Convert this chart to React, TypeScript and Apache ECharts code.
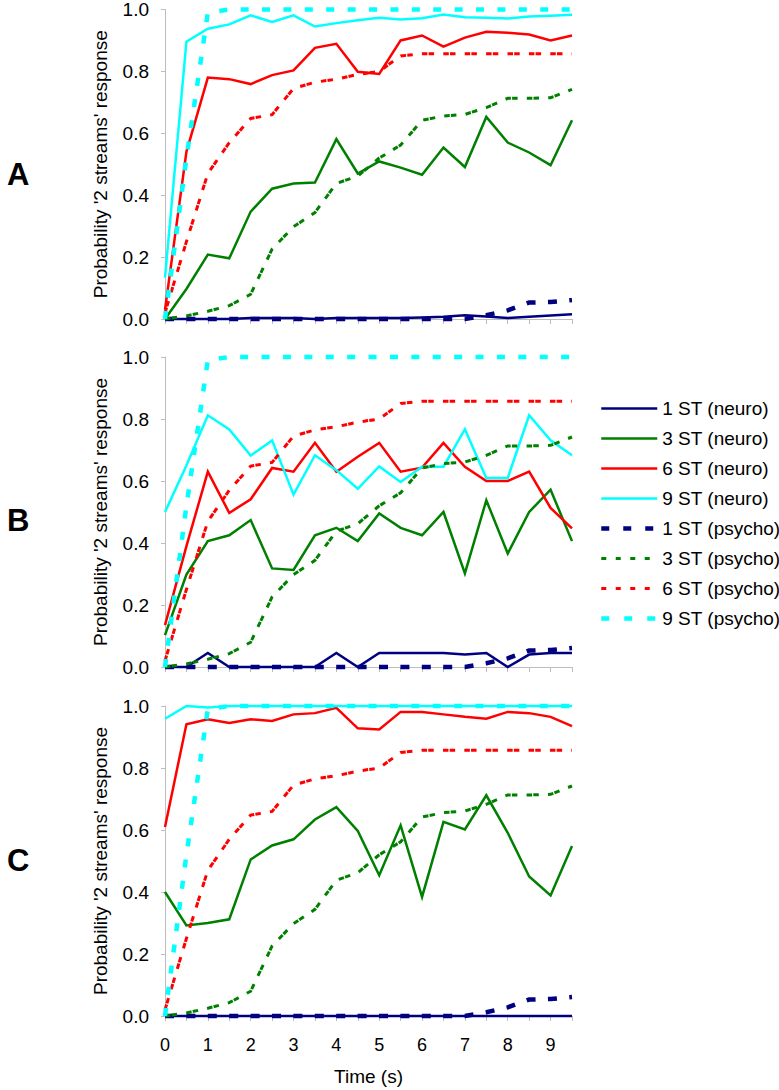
import React, { useEffect, useRef } from "react";
import * as echarts from "echarts";

const times = [0, 0.5, 1, 1.5, 2, 2.5, 3, 3.5, 4, 4.5, 5, 5.5, 6, 6.5, 7, 7.5, 8, 8.5, 9, 9.5];
const yTicks = [0, 0.2, 0.4, 0.6, 0.8, 1.0];
const seriesNames = [
  "1 ST (neuro)", "3 ST (neuro)", "6 ST (neuro)", "9 ST (neuro)",
  "1 ST (psycho)", "3 ST (psycho)", "6 ST (psycho)", "9 ST (psycho)",
];
const panelLabels = ["A", "B", "C"];

// psychophysical data (same in all panels)
const psycho1 = [0, 0, 0, 0, 0, 0, 0, 0, 0, 0, 0, 0, 0, 0, 0, 0.012, 0.028, 0.053, 0.055, 0.061];
const psycho3 = [0, 0.01, 0.025, 0.043, 0.08, 0.226, 0.298, 0.344, 0.438, 0.462, 0.52, 0.562, 0.642, 0.656, 0.661, 0.683, 0.713, 0.713, 0.715, 0.742];
const psycho6 = [0.02, 0.25, 0.47, 0.57, 0.648, 0.66, 0.745, 0.765, 0.775, 0.79, 0.8, 0.85, 0.857, 0.857, 0.857, 0.857, 0.857, 0.857, 0.857, 0.857];
const psycho9 = [0, 0.52, 0.99, 1, 1, 1, 1, 1, 1, 1, 1, 1, 1, 1, 1, 1, 1, 1, 1, 1];

// panel A neuro
const a1 = [0, 0, 0, 0, 0.003, 0.003, 0.003, 0, 0.003, 0.003, 0.003, 0.003, 0.005, 0.007, 0.012, 0.008, 0.003, 0.007, 0.011, 0.015];
const a3 = [0, 0.097, 0.208, 0.196, 0.347, 0.421, 0.438, 0.441, 0.581, 0.47, 0.509, 0.489, 0.466, 0.554, 0.491, 0.653, 0.57, 0.538, 0.497, 0.642];
const a6 = [0.03, 0.54, 0.78, 0.775, 0.759, 0.788, 0.803, 0.876, 0.889, 0.799, 0.792, 0.9, 0.916, 0.88, 0.909, 0.928, 0.925, 0.919, 0.9, 0.916];
const a9 = [0.134, 0.896, 0.938, 0.952, 0.981, 0.96, 0.981, 0.945, 0.956, 0.965, 0.973, 0.968, 0.972, 0.984, 0.975, 0.973, 0.971, 0.977, 0.98, 0.983];

// panel B neuro
const b1 = [0, 0, 0.045, 0, 0, 0, 0, 0, 0.045, 0, 0.045, 0.045, 0.045, 0.045, 0.04, 0.045, 0, 0.04, 0.045, 0.045];
const b3 = [0.103, 0.298, 0.406, 0.425, 0.474, 0.318, 0.313, 0.425, 0.449, 0.406, 0.495, 0.449, 0.425, 0.5, 0.302, 0.538, 0.366, 0.5, 0.572, 0.406];
const b6 = [0.135, 0.39, 0.63, 0.497, 0.541, 0.642, 0.63, 0.723, 0.63, 0.678, 0.723, 0.63, 0.643, 0.723, 0.646, 0.6, 0.6, 0.63, 0.513, 0.447];
const b9 = [0.5, 0.65, 0.812, 0.766, 0.682, 0.731, 0.556, 0.683, 0.635, 0.575, 0.647, 0.597, 0.646, 0.646, 0.767, 0.61, 0.61, 0.812, 0.731, 0.683];

// panel C neuro
const c1 = [0, 0, 0, 0, 0, 0, 0, 0, 0, 0, 0, 0, 0, 0, 0, 0, 0, 0, 0, 0];
const c3 = [0.4, 0.292, 0.3, 0.312, 0.505, 0.55, 0.57, 0.634, 0.674, 0.597, 0.454, 0.615, 0.384, 0.626, 0.602, 0.712, 0.591, 0.45, 0.389, 0.548];
const c6 = [0.61, 0.941, 0.957, 0.945, 0.957, 0.952, 0.973, 0.977, 0.994, 0.928, 0.924, 0.981, 0.981, 0.973, 0.965, 0.959, 0.981, 0.977, 0.965, 0.935];
const c9 = [0.959, 1, 0.995, 1, 1, 1, 1, 1, 1, 1, 1, 1, 1, 1, 1, 1, 1, 1, 1, 1];

const panels = [
  [a1, a3, a6, a9, psycho1, psycho3, psycho6, psycho9],
  [b1, b3, b6, b9, psycho1, psycho3, psycho6, psycho9],
  [c1, c3, c6, c9, psycho1, psycho3, psycho6, psycho9],
];

const colors = ["#000080", "#008000", "#ff0000", "#00ffff", "#000080", "#008000", "#ff0000", "#00ffff"];
const widths = [2.5, 2.5, 2.5, 2.5, 4.5, 3, 3, 4.5];
const plotDash: any[] = ["solid", "solid", "solid", "solid", [9, 12.4], [5.5, 1.2, 5.5, 9.2], [5.5, 1.2, 5.5, 9.2], [8, 13.4]];
const legendDash: any[] = ["solid", "solid", "solid", "solid", [8, 14], [5, 9.5], [5, 9.5], [8, 15]];

const FONT = "Liberation Sans, Arial, sans-serif";
const GRID_TOPS = [9, 357, 706];
const GRID_LEFT = 165;
const GRID_W = 407;
const GRID_H = 310;
const LETTER_Y = [174, 520, 860];

export default function App() {
  const ref = useRef<HTMLDivElement>(null);
  useEffect(() => {
    document.body.style.margin = "0";
    if (!ref.current) return;
    const chart = echarts.init(ref.current, undefined, { renderer: "svg" });

    const grids = GRID_TOPS.map((top) => ({ left: GRID_LEFT, top, width: GRID_W, height: GRID_H }));
    const axisLineStyle = { color: "#bdbdbd", width: 1 };

    const xAxes = GRID_TOPS.map((_, i) => ({
      type: "value",
      gridIndex: i,
      min: 0,
      max: 9.5,
      interval: 0.5,
      axisLine: { show: true, onZero: false, lineStyle: axisLineStyle },
      axisTick: { show: true, length: 5, lineStyle: axisLineStyle },
      splitLine: { show: false },
      axisLabel: {
        show: i === 2,
        margin: 20,
        fontSize: 18,
        fontFamily: FONT,
        color: "#000",
        formatter: (v: number) => (Number.isInteger(v) && v <= 9 ? String(v) : ""),
      },
      name: i === 2 ? "Time (s)" : "",
      nameLocation: "middle",
      nameGap: 51,
      nameTextStyle: { fontSize: 19, fontFamily: FONT, color: "#000" },
    }));

    const yAxes = GRID_TOPS.map((_, i) => ({
      type: "value",
      gridIndex: i,
      min: yTicks[0],
      max: yTicks[yTicks.length - 1],
      interval: 0.2,
      axisLine: { show: true, lineStyle: axisLineStyle },
      axisTick: { show: true, length: 4, lineStyle: axisLineStyle },
      splitLine: { show: false },
      axisLabel: {
        margin: 16,
        fontSize: 19,
        fontFamily: FONT,
        color: "#000",
        showMaxLabel: true,
        showMinLabel: true,
        formatter: (v: number) => v.toFixed(1),
      },
      name: "Probability '2 streams' response",
      nameLocation: "middle",
      nameGap: 55,
      nameTextStyle: { fontSize: 19, fontFamily: FONT, color: "#000" },
    }));

    const series: any[] = [];
    panels.forEach((panel, p) => {
      panel.forEach((vals, s) => {
        series.push({
          type: "line",
          name: seriesNames[s],
          xAxisIndex: p,
          yAxisIndex: p,
          data: times.map((t, k) => [t, vals[k]]),
          symbol: "none",
          showSymbol: false,
          clip: false,
          lineStyle: { color: colors[s], width: widths[s], type: plotDash[s], cap: "butt", join: "miter" },
          itemStyle: { color: colors[s] },
          z: 2 + s,
        });
      });
    });

    const option: any = {
      animation: false,
      backgroundColor: "#fff",
      grid: grids,
      xAxis: xAxes,
      yAxis: yAxes,
      series,
      legend: {
        orient: "vertical",
        left: 599,
        top: 399,
        padding: 0,
        itemWidth: 56,
        itemHeight: 14,
        itemGap: 11,
        selectedMode: false,
        textStyle: { fontSize: 19, fontFamily: FONT, color: "#000", overflow: "none" },
        data: seriesNames.map((n, s) => ({
          name: n,
          itemStyle: { color: "transparent", borderColor: "transparent", borderWidth: 0, opacity: 0 },
          lineStyle: { color: colors[s], width: widths[s], type: legendDash[s], opacity: 1 },
        })),
      },
      graphic: panelLabels.map((l, i) => ({
        type: "text",
        left: 7,
        top: LETTER_Y[i] - 15,
        style: { text: l, font: `bold 31px ${FONT}`, fill: "#000" },
      })),
    };
    chart.setOption(option);
    return () => chart.dispose();
  }, []);
  return <div ref={ref} style={{ width: 779, height: 1090 }} />;
}
